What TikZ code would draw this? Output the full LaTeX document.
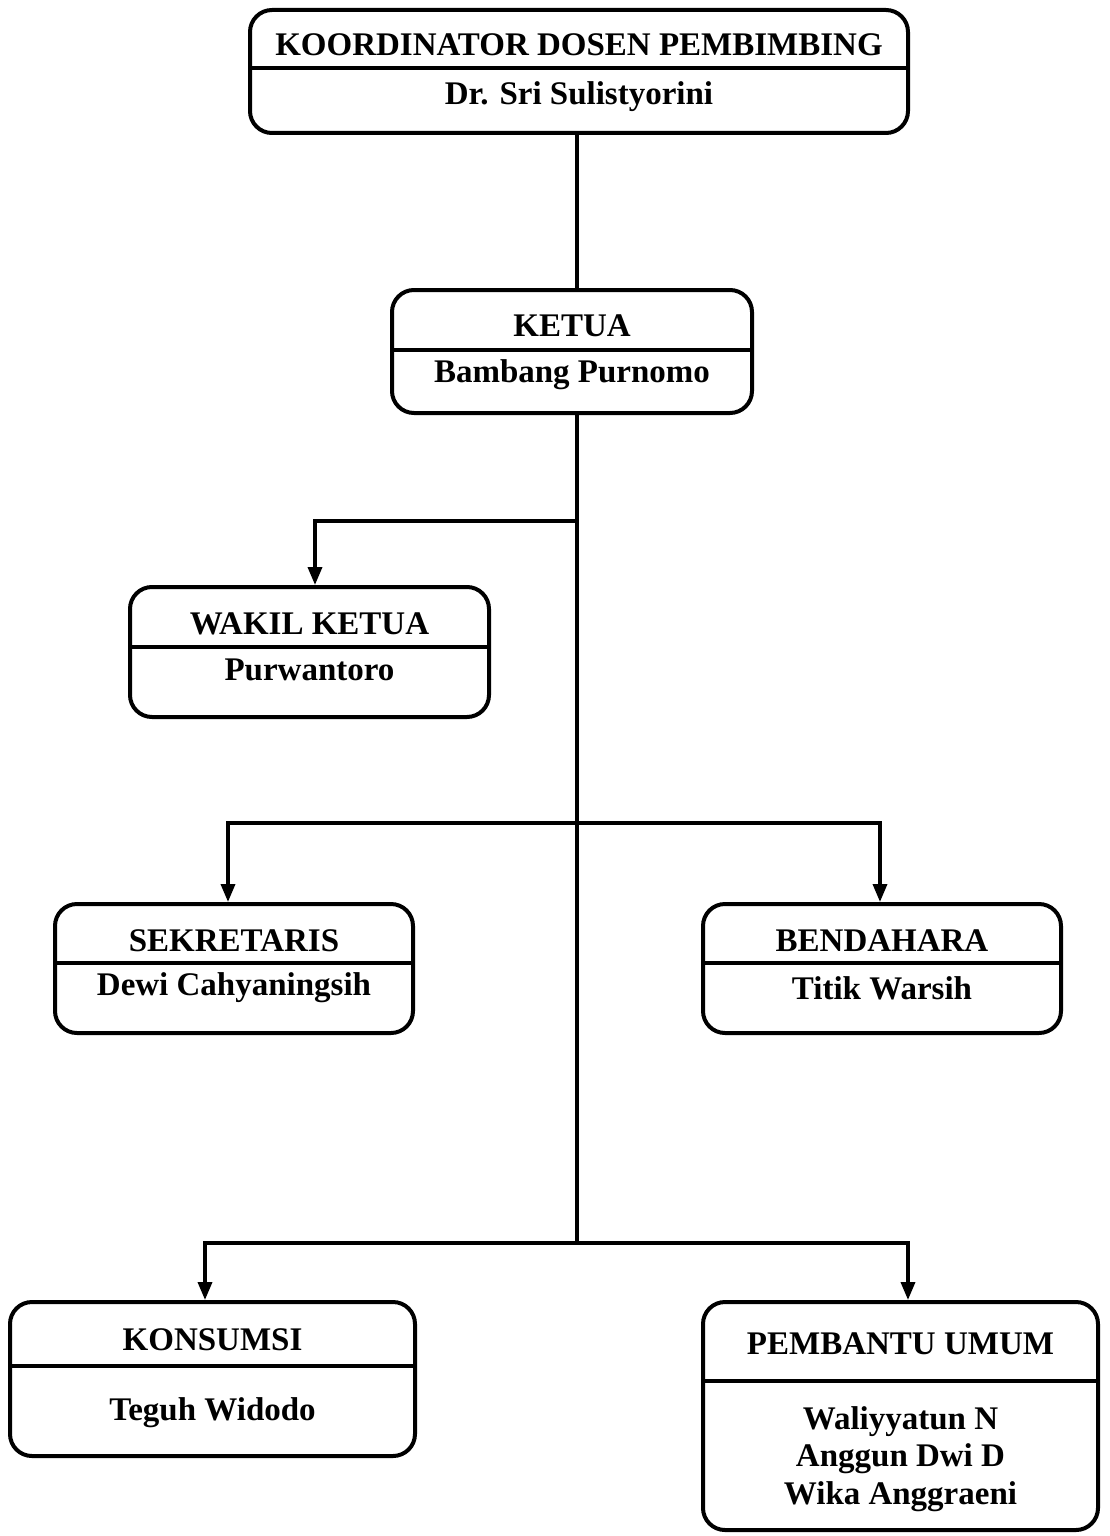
\documentclass[tikz,border=0pt]{standalone}
\usepackage{fontspec}
\setmainfont{Liberation Serif}
\usetikzlibrary{arrows.meta}
\tikzset{
  box/.style={draw, line width=4pt, rounded corners=22pt, inner sep=0pt},
  divline/.style={line width=3.5pt},
  conn/.style={line width=3.5pt},
  arr/.style={line width=3.5pt, -{Triangle[length=18pt,width=14pt]}},
  ttl/.style={font=\bfseries\fontsize{33}{38}\selectfont, inner sep=0pt},
  nm/.style={font=\bfseries\fontsize{33}{37.5}\selectfont, inner sep=0pt, align=center},
}
\begin{document}
\begin{tikzpicture}[x=1pt,y=-1pt]
\useasboundingbox (0,0) rectangle (1110,1536);
% boxes
\node[box, minimum width=658pt, minimum height=123pt] (k1) at (579,71.5) {};
\node[box, minimum width=360pt, minimum height=123pt] (k2) at (572,351.5) {};
\node[box, minimum width=359pt, minimum height=130pt] (wk) at (309.5,652) {};
\node[box, minimum width=358pt, minimum height=129pt] (sk) at (234,968.5) {};
\node[box, minimum width=358pt, minimum height=129pt] (bd) at (882,968.5) {};
\node[box, minimum width=405pt, minimum height=154pt] (ks) at (212.5,1379) {};
\node[box, minimum width=395pt, minimum height=228pt] (pu) at (900.5,1416) {};
% dividers
\draw[divline] (k1.west |- 0,68) -- (k1.east |- 0,68);
\draw[divline] (k2.west |- 0,350) -- (k2.east |- 0,350);
\draw[divline] (wk.west |- 0,647) -- (wk.east |- 0,647);
\draw[divline] (sk.west |- 0,963) -- (sk.east |- 0,963);
\draw[divline] (bd.west |- 0,963) -- (bd.east |- 0,963);
\draw[divline] (ks.west |- 0,1366) -- (ks.east |- 0,1366);
\draw[divline] (pu.west |- 0,1381) -- (pu.east |- 0,1381);
% texts
\node[ttl] (k1t) at (579,45) {KOORDINATOR DOSEN PEMBIMBING};
\node[nm] (k1n) at (579,97) {Dr. Sri Sulistyorini};
\node[ttl] (k2t) at (572,326) {KETUA};
\node[nm] (k2n) at (572,375) {Bambang Purnomo};
\node[ttl] (wkt) at (309.5,624) {WAKIL KETUA};
\node[nm] (wkn) at (309.5,670) {Purwantoro};
\node[ttl] (skt) at (234,941) {SEKRETARIS};
\node[nm] (skn) at (234,988) {Dewi Cahyaningsih};
\node[ttl] (bdt) at (882,941) {BENDAHARA};
\node[nm] (bdn) at (882,988) {Titik Warsih};
\node[ttl] (kst) at (212.5,1340) {KONSUMSI};
\node[nm] (ksn) at (212.5,1413) {Teguh Widodo};
\node[ttl] (put) at (900.5,1344) {PEMBANTU UMUM};
\node[nm] (pun) at (900.5,1459) {Waliyyatun N\\Anggun Dwi D\\Wika Anggraeni};
% connectors
\coordinate (j1) at (577,521);
\coordinate (j2) at (577,823);
\coordinate (j3) at (577,1243);
\draw[conn] (k1.south -| 577,0) -- (k2.north -| 577,0);
\draw[conn] (k2.south -| 577,0) -- (j3);
\draw[arr] (j1) -| (wk.north -| 315,0);
\draw[arr] (j2) -| (sk.north -| 228,0);
\draw[arr] (j2) -| (bd.north -| 880,0);
\draw[arr] (j3) -| (ks.north -| 205,0);
\draw[arr] (j3) -| (pu.north -| 908,0);
\end{tikzpicture}
\end{document}
